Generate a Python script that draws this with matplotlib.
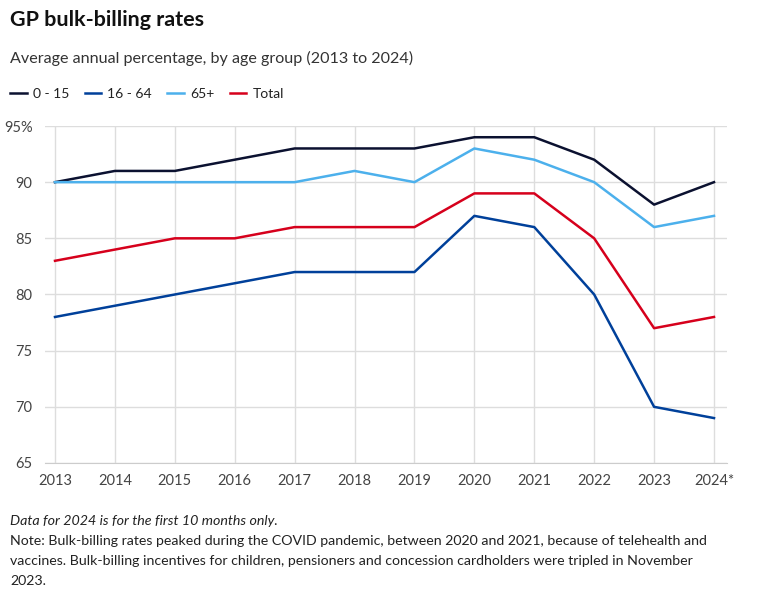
import matplotlib
matplotlib.use('Agg')
import matplotlib.pyplot as plt

years = [2013, 2014, 2015, 2016, 2017, 2018, 2019, 2020, 2021, 2022, 2023, 2024]
year_labels = ['2013', '2014', '2015', '2016', '2017', '2018', '2019', '2020', '2021', '2022', '2023', '2024*']
age_0_15 = [90, 91, 91, 92, 93, 93, 93, 94, 94, 92, 88, 90]
age_16_64 = [78, 79, 80, 81, 82, 82, 82, 87, 86, 80, 70, 69]
age_65_plus = [90, 90, 90, 90, 90, 91, 90, 93, 92, 90, 86, 87]
total = [83, 84, 85, 85, 86, 86, 86, 89, 89, 85, 77, 78]
y_ticks = [65, 70, 75, 80, 85, 90, 95]
y_labels = ['65', '70', '75', '80', '85', '90', '95%']

plt.rcParams['font.family'] = ['Lato', 'DejaVu Sans']

W, H = 763, 601
fig = plt.figure(figsize=(W / 100, H / 100), dpi=100)
renderer = fig.canvas.get_renderer()


def fit(t, width_px):
    # scale the font so the text spans about the same width as in the reference
    w = t.get_window_extent(renderer).width
    t.set_fontsize(t.get_fontsize() * width_px / w)
    return t


ax = fig.add_axes([45 / W, (H - 463) / H, (727 - 45) / W, (463 - 126) / H])

series = [
    ('0 - 15', age_0_15, '#0b1130'),
    ('16 - 64', age_16_64, '#00409a'),
    ('65+', age_65_plus, '#4cb0ec'),
    ('Total', total, '#d6001c'),
]
for name, vals, col in series:
    ax.plot(years, vals, color=col, lw=1.8, label=name)

ax.set_xlim(2013 - 10 / 59.9, 2024 + 13 / 59.9)
ax.set_ylim(65, 95)
ax.set_xticks(years)
ax.set_xticklabels(year_labels)
ax.set_yticks(y_ticks)
ax.set_yticklabels(y_labels)
ax.grid(True, color='#dddddd', lw=1)
ax.set_axisbelow(True)
for s in ['top', 'right', 'left']:
    ax.spines[s].set_visible(False)
ax.spines['bottom'].set_color('#cccccc')
ax.tick_params(length=0, labelsize=10.5, colors='#444444')
ax.tick_params(axis='x', pad=8)
ax.tick_params(axis='y', pad=9)

fit(fig.text(10 / W, 1 - 20 / H, 'GP bulk-billing rates', fontsize=15, fontweight='bold',
             color='#111111', va='center'), 194)
fit(fig.text(10 / W, 1 - 58 / H, 'Average annual percentage, by age group (2013 to 2024)',
             fontsize=11.5, color='#333333', va='center'), 405)

leg = fig.legend(loc='center left', bbox_to_anchor=(10 / W, 1 - 94 / H), ncol=4, frameon=False,
                 fontsize=10, handlelength=1.2, handletextpad=0.45, columnspacing=1.1,
                 borderpad=0, borderaxespad=0)
for t in leg.get_texts():
    t.set_color('#222222')

fit(fig.text(10 / W, 1 - 521 / H, 'Data for 2024 is for the first 10 months only.', fontsize=10,
             style='italic', color='#222222', va='center'), 267)
notes = ['Note: Bulk-billing rates peaked during the COVID pandemic, between 2020 and 2021, because of telehealth and',
         'vaccines. Bulk-billing incentives for children, pensioners and concession cardholders were tripled in November',
         '2023.']
note_texts = [fig.text(10 / W, 1 - (541 + 20 * i) / H, line, fontsize=10.5, color='#222222', va='center')
              for i, line in enumerate(notes)]
fit(note_texts[0], 704)
for t in note_texts[1:]:
    t.set_fontsize(note_texts[0].get_fontsize())

fig.savefig('out.png', dpi=100)
